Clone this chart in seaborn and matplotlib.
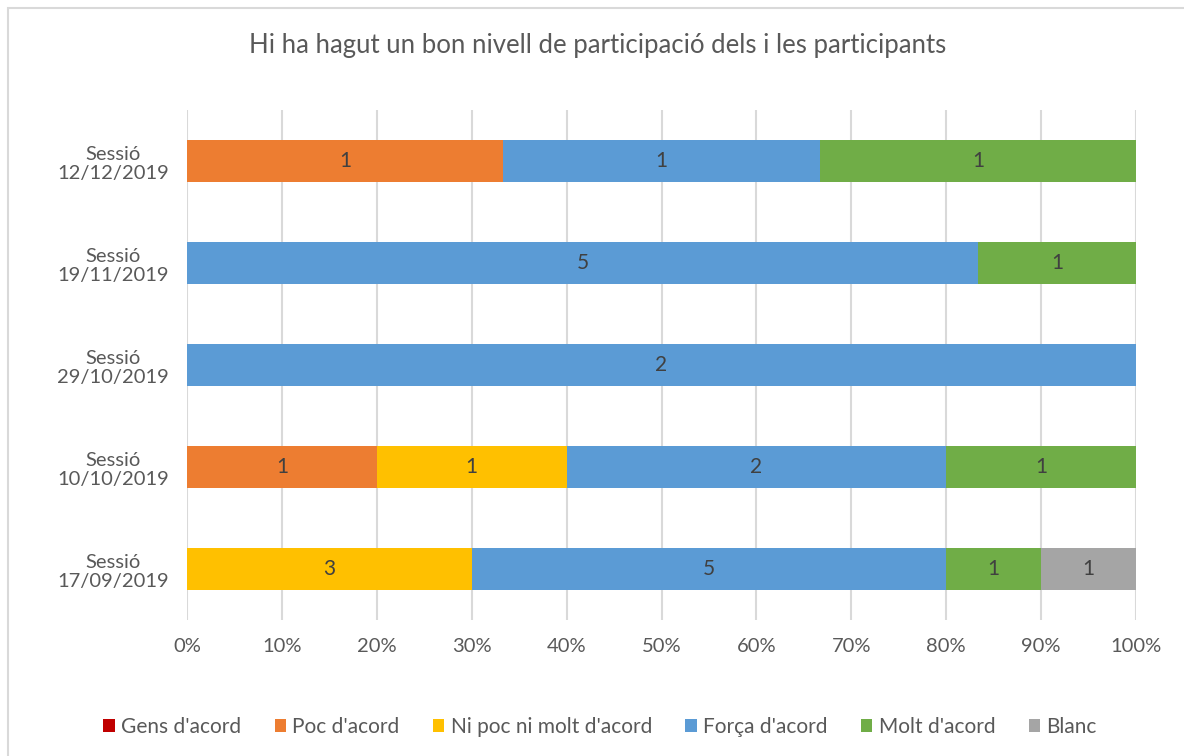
import matplotlib
matplotlib.use("Agg")
import matplotlib.pyplot as plt
import seaborn as sns
import pandas as pd
import numpy as np
from matplotlib.patches import Rectangle, Patch

# ── Data ─────────────────────────────────────────────────────
sessions = ["Sessió\n12/12/2019", "Sessió\n19/11/2019", "Sessió\n29/10/2019",
            "Sessió\n10/10/2019", "Sessió\n17/09/2019"]
categories = ["Gens d'acord", "Poc d'acord", "Ni poc ni molt d'acord",
              "Força d'acord", "Molt d'acord", "Blanc"]
gens = [0, 0, 0, 0, 0]
poc = [1, 0, 0, 1, 0]
ni_poc = [0, 0, 0, 1, 3]
forca = [1, 5, 2, 2, 5]
molt = [1, 1, 0, 1, 1]
blanc = [0, 0, 0, 0, 1]
colors = ["#C00000", "#ED7D31", "#FFC000", "#5B9BD5", "#70AD47", "#A5A5A5"]

counts = np.array([gens, poc, ni_poc, forca, molt, blanc], dtype=float)
totals = counts.sum(axis=0)
pct = counts / totals * 100
cum = np.cumsum(pct, axis=0)

sns.set_theme(style="white")
plt.rcParams["font.family"] = ["Lato", "DejaVu Sans"]
text_col = "#595959"

fig = plt.figure(figsize=(11.84, 7.56), dpi=100)
ax = fig.add_axes([187 / 1184, 1 - 620 / 756, (1136 - 187) / 1184, (620 - 110) / 756])

# stacked bars: draw cumulative totals from the back to the front
for i in range(len(categories) - 1, -1, -1):
    df = pd.DataFrame({"session": sessions, "value": cum[i]})
    sns.barplot(data=df, x="value", y="session", orient="h", color=colors[i],
                width=0.41, saturation=1, ax=ax, zorder=3, linewidth=0)

# segment labels
for i in range(len(categories)):
    for j in range(len(sessions)):
        if counts[i, j] > 0:
            xc = cum[i, j] - pct[i, j] / 2
            ax.text(xc, j, f"{int(counts[i, j])}", ha="center", va="center",
                    fontsize=15, color="#404040", zorder=4)

ax.set_xlim(0, 100)
ax.set_ylim(4.5, -0.5)
ax.set_xticks(np.arange(0, 101, 10))
ax.set_xticklabels([f"{t}%" for t in range(0, 101, 10)])
ax.tick_params(axis="x", labelsize=14.5, colors=text_col, length=0, pad=13)
ax.tick_params(axis="y", labelsize=14.5, colors=text_col, length=0, pad=13)
for lab in ax.get_yticklabels():
    lab.set_horizontalalignment("right")
    lab.set_multialignment("center")
    lab.set_linespacing(1.15)
ax.grid(axis="x", color="#D9D9D9", linewidth=1.5, zorder=0)
ax.set_axisbelow(True)
ax.set_xlabel("")
ax.set_ylabel("")
for s in ax.spines.values():
    s.set_visible(False)

fig.text(598 / 1184, 1 - 45 / 756, "Hi ha hagut un bon nivell de participació dels i les participants",
         ha="center", va="center", fontsize=18.5, color=text_col)

handles = [Patch(facecolor=c, edgecolor="none") for c in colors]
fig.legend(handles, categories, loc="center", bbox_to_anchor=(600 / 1184, 1 - 727 / 756),
           ncol=6, frameon=False, fontsize=15, labelcolor=text_col,
           handlelength=0.55, handleheight=0.55, handletextpad=0.3, columnspacing=1.6)

fig.patches.append(Rectangle((8 / 1184, -0.1), 1.2, 1.1 - 8 / 756,
                             transform=fig.transFigure, fill=False,
                             edgecolor="#D9D9D9", linewidth=1.5))

fig.savefig("out.png", dpi=100)
